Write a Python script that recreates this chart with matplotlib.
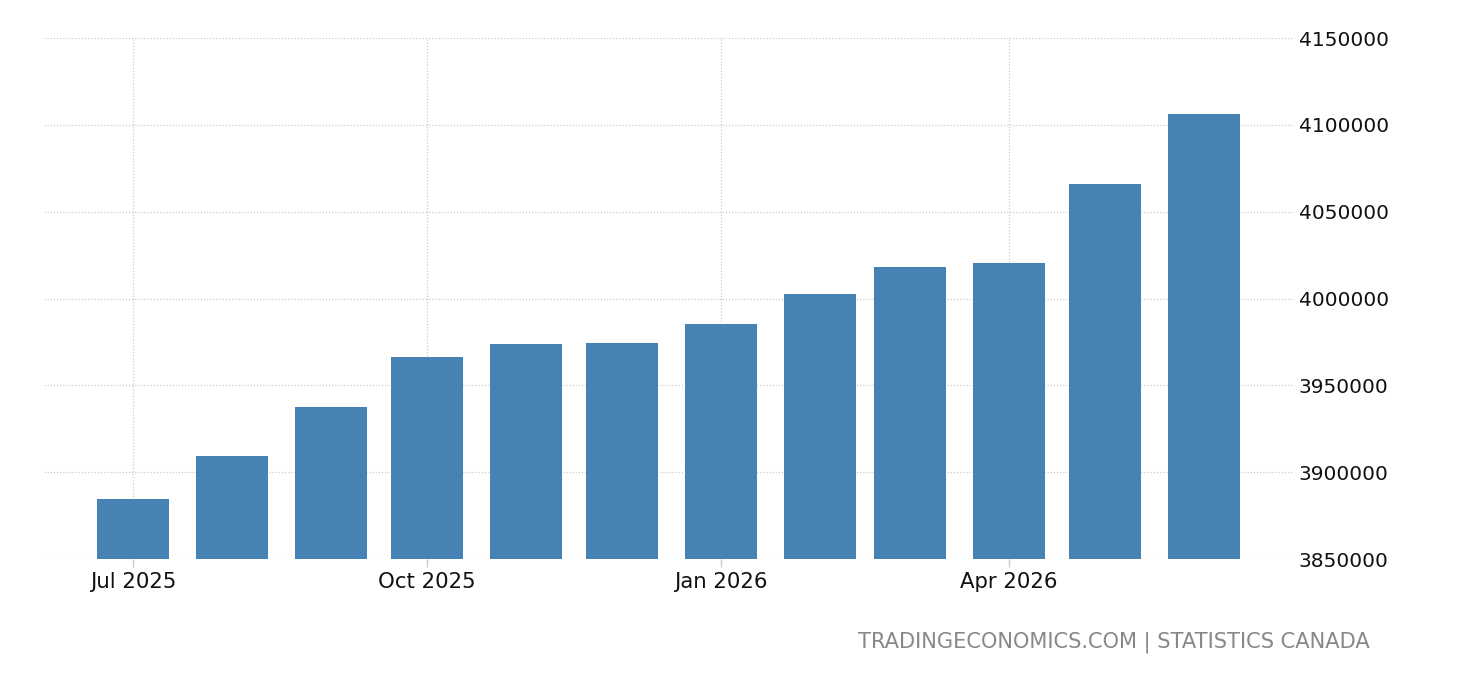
import matplotlib
matplotlib.use("Agg")
import matplotlib.pyplot as plt
import matplotlib.dates as mdates
from matplotlib.ticker import FixedLocator, FuncFormatter
import datetime as dt

months = ["2025-07-01", "2025-08-01", "2025-09-01", "2025-10-01", "2025-11-01", "2025-12-01",
          "2026-01-01", "2026-02-01", "2026-03-01", "2026-04-01", "2026-05-01", "2026-06-01"]
values = [3884500, 3909300, 3937500, 3966300, 3973800, 3974400,
          3985300, 4002600, 4018100, 4020400, 4065900, 4106200]
tick_dates = ["2025-07-01", "2025-10-01", "2026-01-01", "2026-04-01"]
tick_labels = ["Jul 2025", "Oct 2025", "Jan 2026", "Apr 2026"]
y_ticks = [3850000, 3900000, 3950000, 4000000, 4050000, 4100000, 4150000]
footer = "TRADINGECONOMICS.COM | STATISTICS CANADA"

plt.rcParams['font.family'] = ['DejaVu Sans']

dates = [dt.datetime.strptime(d, "%Y-%m-%d") for d in months]
tdates = [dt.datetime.strptime(d, "%Y-%m-%d") for d in tick_dates]

fig = plt.figure(figsize=(14.6, 6.8), dpi=100)
ax = fig.add_axes([44/1460, 121/680, (1293-44)/1460, (559-38)/680])

x = mdates.date2num(dates)
ax.bar(x, [v - y_ticks[0] for v in values], bottom=y_ticks[0], width=22.5,
       color="#4682B4", zorder=3)

x0 = mdates.date2num(dates[0])
ax.set_xlim(x0 - 27.8, x0 + 362.8)
ax.set_ylim(y_ticks[0], y_ticks[-1])

ax.xaxis.set_major_locator(FixedLocator(mdates.date2num(tdates)))
ax.set_xticklabels(tick_labels, fontsize=15.3, color="#111111")
ax.yaxis.set_major_locator(FixedLocator(y_ticks))
ax.yaxis.set_major_formatter(FuncFormatter(lambda v, p: f"{int(v)}"))
ax.yaxis.tick_right()
ax.tick_params(axis='y', length=0, pad=4, labelsize=14.5, labelcolor="#111111")
ax.tick_params(axis='x', length=6, width=1, color="#cccccc", pad=3)

for s in ax.spines.values():
    s.set_visible(False)

ax.grid(True, which='major', axis='both', linestyle=(0, (1, 1.5)), color="#cccccc",
        linewidth=0.9, zorder=0)
ax.set_axisbelow(True)

fig.text(1370/1460, 1 - 642/680, footer, ha='right', va='center',
         fontsize=15.1, color="#888888")

fig.savefig("out.png", dpi=100)
